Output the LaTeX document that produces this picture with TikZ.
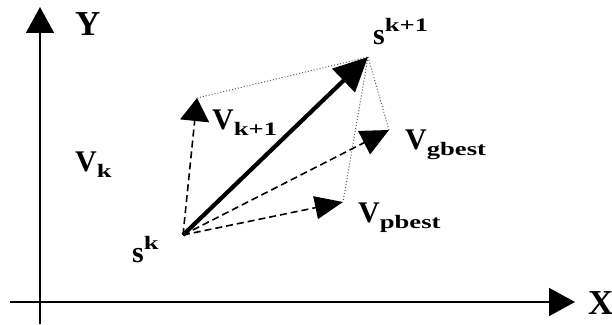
\documentclass[tikz,border=0pt]{standalone}
\usepackage{fontspec}
\setmainfont{Liberation Serif}
\usepackage{tikz}
\usetikzlibrary{arrows.meta}
\newcommand{\lowsub}[1]{\raisebox{-6pt}{\fontsize{19}{22}\selectfont\scalebox{1.4}[1]{#1}}}
\newcommand{\highsup}[1]{\raisebox{13pt}{\fontsize{19}{22}\selectfont\scalebox{1.4}[1]{#1}}}
\begin{document}
\begin{tikzpicture}[
    x=1pt, y=1pt,
    axis/.style={line width=1.7pt, -{Triangle[length=26pt, width=28pt]}},
    move/.style={line width=4.2pt, -{Triangle[length=34pt, width=32pt]}},
    velo/.style={line width=1.6pt, dash pattern=on 7pt off 4pt},
    link/.style={line width=1pt, gray!70!black, dotted},
    label/.style={font=\fontsize{30}{36}\selectfont\bfseries, inner sep=0pt, anchor=base west},
    axlabel/.style={font=\fontsize{35}{40}\selectfont\bfseries, inner sep=0pt, anchor=base west}
]
\useasboundingbox (0,0) rectangle (612,324);

\coordinate (ybot) at (40,0);
\coordinate (ytop) at (40,317);
\coordinate (xleft) at (10,22);
\coordinate (xright) at (575,22);
\coordinate (sk) at (183,89);
\coordinate (sk1) at (368,267);
\coordinate (vk1) at (197,226);
\coordinate (vg) at (389,194);
\coordinate (vp) at (343,122);

\draw[axis] (ybot) -- (ytop);
\draw[axis] (xleft) -- (xright);

\draw[link] (vk1) -- (sk1);
\draw[link] (sk1) -- (vg);
\draw[link] (sk1) -- (vp);

\draw[velo, -{Triangle[length=23pt, width=29pt]}] (sk) -- (vk1);
\draw[velo, -{Triangle[length=28pt, width=26pt]}] (sk) -- (vg);
\draw[velo, -{Triangle[length=28pt, width=23pt]}] (sk) -- (vp);
\draw[move] (sk) -- (sk1);

\node[axlabel] (ylab) at (75,288) {Y};
\node[axlabel] (xlab) at (588,10) {X};
\node[label] (sklab) at (132,62) {s\highsup{k}};
\node[label] (sk1lab) at (373,279) {s\highsup{k+1}};
\node[label] (vk1lab) at (212,194) {V\lowsub{k+1}};
\node[label] (vklab) at (75,152) {V\lowsub{k}};
\node[label] (vglab) at (405,174) {V\lowsub{gbest}};
\node[label] (vplab) at (358,102) {V\lowsub{pbest}};
\end{tikzpicture}
\end{document}
